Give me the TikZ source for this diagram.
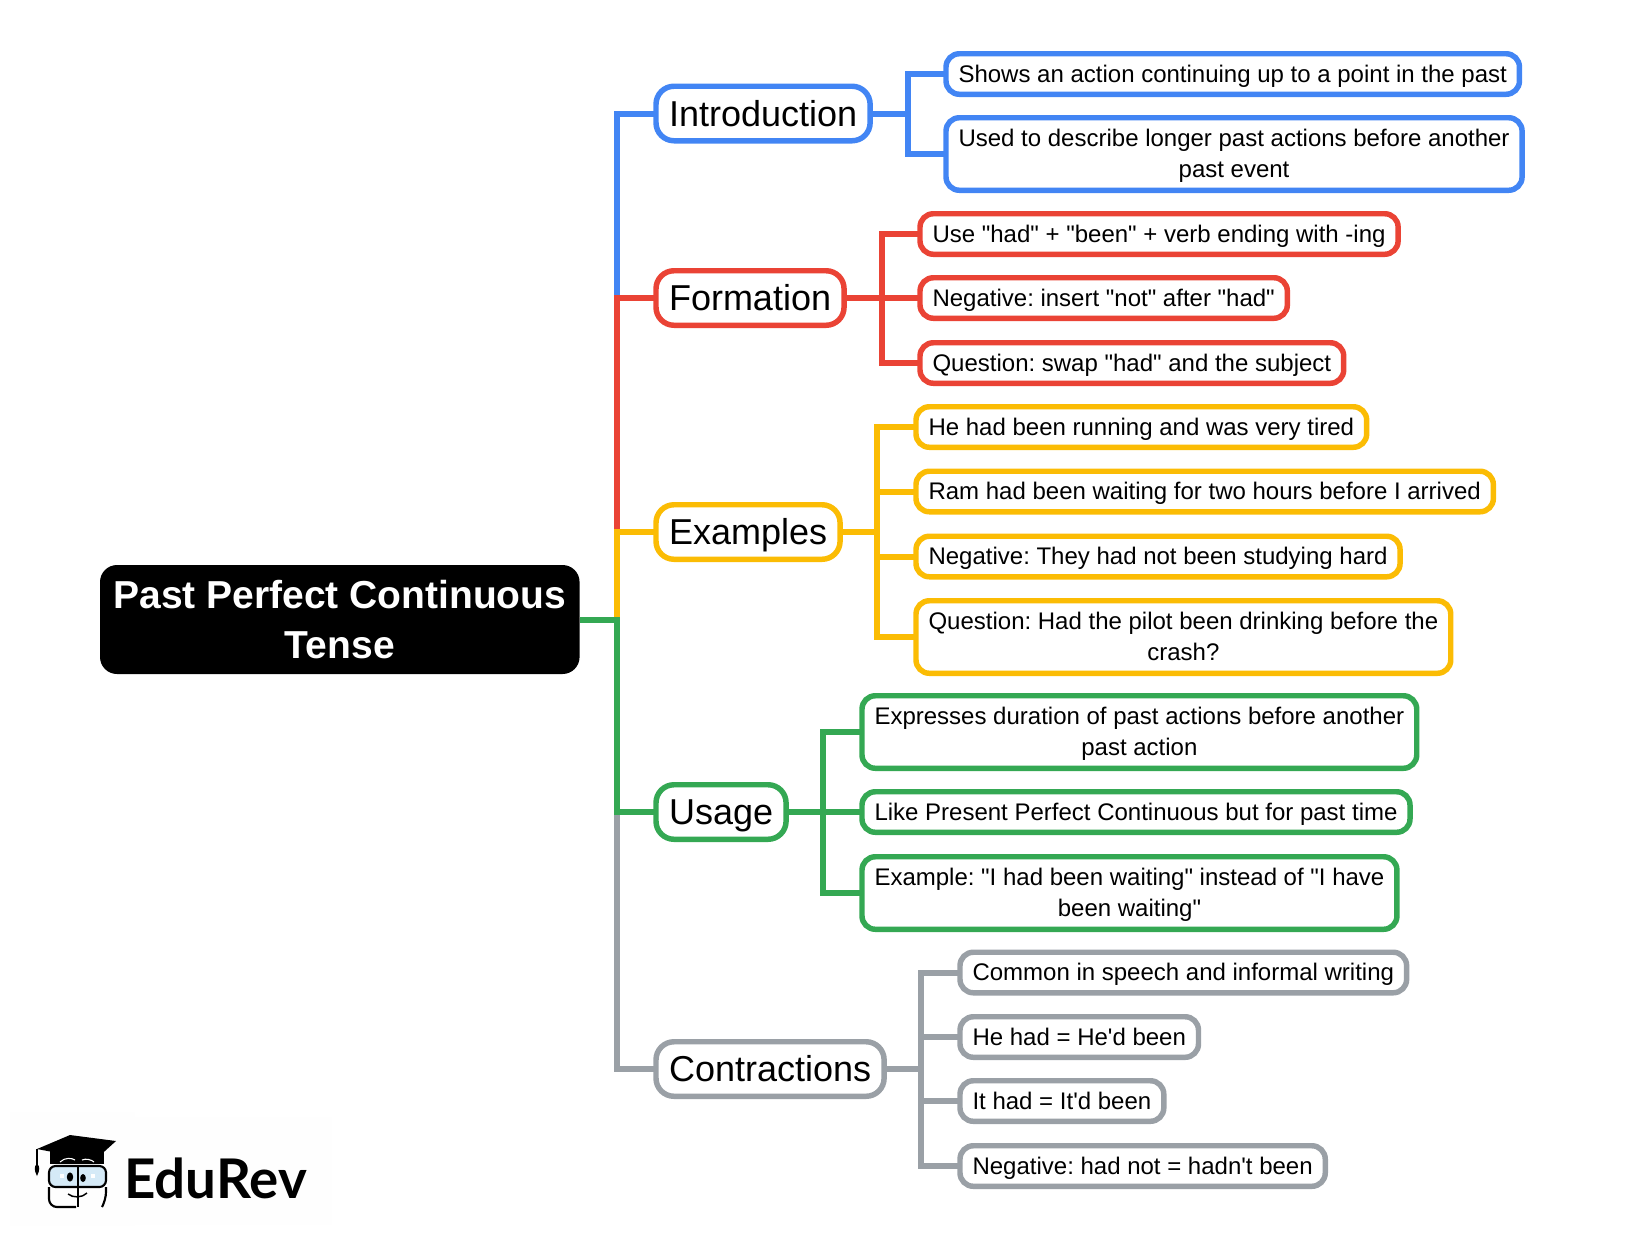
\documentclass[tikz,border=0pt]{standalone}
\usepackage{fontspec}
\setmainfont{Liberation Sans}[Ligatures=TeXOff]
\newfontfamily\logofont{Lato}
\usetikzlibrary{positioning}
\definecolor{introblue}{HTML}{4285F4}
\definecolor{formred}{HTML}{EA4335}
\definecolor{exyellow}{HTML}{FBBC04}
\definecolor{usegreen}{HTML}{34A853}
\definecolor{contgray}{HTML}{9AA0A6}
\definecolor{logoblue}{HTML}{D5EAF7}
\newcommand{\leafstrut}{\rule[-4.5pt]{0pt}{21pt}}
\newcommand{\topicstrut}{\rule[-7pt]{0pt}{33.3pt}}
\frenchspacing
\tikzset{
	mainbox/.style={anchor=west,fill=black,text=white,rounded corners=12.75pt,inner xsep=10pt,inner ysep=0pt,outer sep=0pt,minimum height=81.75pt,align=center,font=\fontsize{29.25}{38}\selectfont\bfseries},
	topicbox/.style={anchor=west,draw=#1,fill=white,line width=4.1pt,rounded corners=13.5pt,inner xsep=9.75pt,inner ysep=0pt,outer sep=0pt,minimum height=40.9pt,font=\fontsize{27}{33}\selectfont,execute at begin node=\topicstrut},
	leafbox/.style={anchor=west,draw=#1,fill=white,line width=4.1pt,rounded corners=10pt,inner xsep=9.4pt,inner ysep=0pt,outer sep=0pt,minimum height=30.4pt,align=center,font=\fontsize{18}{23.25}\selectfont,execute at begin node=\leafstrut},
	leafwide/.style={leafbox=#1,minimum height=54.4pt},
	branch/.style={draw=#1,line width=4.5pt}
}
\begin{document}
\begin{tikzpicture}[x=0.75pt,y=0.75pt,yscale=-1,xscale=1]
	\useasboundingbox (0,0) rectangle (1626,1240);
	% logo
	\fill [gray!0.8] (10,1112) rectangle (135,1226);
	\fill [gray!0.8] (135,1117) rectangle (332,1225);
	\draw [line width=1pt] (37,1149) -- (37,1166);
	\fill (37,1164) .. controls (34,1166) and (34,1170) .. (37,1176) .. controls (40,1170) and (40,1166) .. (37,1164) -- cycle;
	\fill (50,1150) -- (104,1150) -- (104,1164) -- (50,1164) -- cycle;
	\fill (37,1149) -- (70,1135) -- (116,1141) -- (95,1160) -- cycle;
	\draw [white,line width=0.8pt] (60,1162) .. controls (65,1157) and (72,1158) .. (75,1160);
	\draw [white,line width=0.8pt] (82,1160) .. controls (86,1158) and (92,1160) .. (94,1162);
	\draw [fill=logoblue,line width=1.6pt,rounded corners=5pt] (49,1166) rectangle (106,1187);
	\draw [line width=1.6pt,rounded corners=6pt] (76,1207) -- (49,1207) -- (49,1187);
	\draw [line width=1.6pt,rounded corners=6pt] (106,1187) -- (106,1200) -- (102,1207);
	\draw [line width=1.6pt] (78,1166) -- (78,1207);
	\fill (70,1177) ellipse (3.2 and 4.6);
	\fill (83,1178) ellipse (2.8 and 4);
	\fill [white] (60,1174) rectangle (64,1178);
	\fill [white] (91,1174) rectangle (95,1178);
	\draw [line width=1.1pt] (68,1194) .. controls (73,1198) and (82,1198) .. (87,1193);
	\draw (124,1178) node [anchor=west,inner sep=0pt,font=\logofont\fontsize{41}{45}\selectfont\bfseries] (logoname) {EduRev};
	% main and topics
	\draw (100,619.5) node [mainbox] (main) {Past Perfect Continuous\\Tense};
	\draw (656,113.5) node [topicbox=introblue] (intro) {Introduction};
	\draw (656,298) node [topicbox=formred] (form) {Formation};
	\draw (656,532) node [topicbox=exyellow] (ex) {Examples};
	\draw (656,812) node [topicbox=usegreen] (usage) {Usage};
	\draw (656,1069) node [topicbox=contgray] (cont) {Contractions};
	% leaves
	\draw (946,74) node [leafbox=introblue] (intro1) {Shows an action continuing up to a point in the past};
	\draw (946,154) node [leafwide=introblue] (intro2) {\leafstrut Used to describe longer past actions before another\\past event\leafstrut};
	\draw (920,234) node [leafbox=formred] (form1) {Use "had" + "been" + verb ending with -ing};
	\draw (920,298) node [leafbox=formred] (form2) {Negative: insert "not" after "had"};
	\draw (920,363) node [leafbox=formred] (form3) {Question: swap "had" and the subject};
	\draw (916,427) node [leafbox=exyellow] (ex1) {He had been running and was very tired};
	\draw (916,491.5) node [leafbox=exyellow] (ex2) {Ram had been waiting for two hours before I arrived};
	\draw (916,556.5) node [leafbox=exyellow] (ex3) {Negative: They had not been studying hard};
	\draw (916,637) node [leafwide=exyellow] (ex4) {\leafstrut Question: Had the pilot been drinking before the\\crash?\leafstrut};
	\draw (862,732) node [leafwide=usegreen] (usage1) {\leafstrut Expresses duration of past actions before another\\past action\leafstrut};
	\draw (862,812) node [leafbox=usegreen] (usage2) {Like Present Perfect Continuous but for past time};
	\draw (862,893) node [leafwide=usegreen] (usage3) {\leafstrut Example: "I had been waiting" instead of "I have\\been waiting"\leafstrut};
	\draw (960,972.5) node [leafbox=contgray] (cont1) {Common in speech and informal writing};
	\draw (960,1037) node [leafbox=contgray] (cont2) {He had = He'd been};
	\draw (960,1101) node [leafbox=contgray] (cont3) {It had = It'd been};
	\draw (960,1166) node [leafbox=contgray] (cont4) {Negative: had not = hadn't been};
	% joints
	\coordinate (mainjoin) at (617,619.5);
	\coordinate (introjoin) at (908,113.5);
	\coordinate (formjoin) at (882,298);
	\coordinate (exjoin) at (877,532);
	\coordinate (usagejoin) at (823,812);
	\coordinate (contjoin) at (921,1069);
	% spine, later colours lie over earlier ones
	\draw [branch=introblue] (main.east) -- (mainjoin) |- (intro.west);
	\draw [branch=formred] (main.east) -- (mainjoin) |- (form.west);
	\draw [branch=exyellow] (main.east) -- (mainjoin) |- (ex.west);
	\draw [branch=contgray] (main.east) -- (mainjoin) |- (cont.west);
	\draw [branch=usegreen] (main.east) -- (mainjoin) |- (usage.west);
	% branches
	\draw [branch=introblue] (intro.east) -- (introjoin) |- (intro1.west);
	\draw [branch=introblue] (intro.east) -- (introjoin) |- (intro2.west);
	\draw [branch=formred] (form.east) -- (formjoin) |- (form1.west);
	\draw [branch=formred] (form.east) -- (form2.west);
	\draw [branch=formred] (form.east) -- (formjoin) |- (form3.west);
	\draw [branch=exyellow] (ex.east) -- (exjoin) |- (ex1.west);
	\draw [branch=exyellow] (ex.east) -- (exjoin) |- (ex2.west);
	\draw [branch=exyellow] (ex.east) -- (exjoin) |- (ex3.west);
	\draw [branch=exyellow] (ex.east) -- (exjoin) |- (ex4.west);
	\draw [branch=usegreen] (usage.east) -- (usagejoin) |- (usage1.west);
	\draw [branch=usegreen] (usage.east) -- (usage2.west);
	\draw [branch=usegreen] (usage.east) -- (usagejoin) |- (usage3.west);
	\draw [branch=contgray] (cont.east) -- (contjoin) |- (cont1.west);
	\draw [branch=contgray] (cont.east) -- (contjoin) |- (cont2.west);
	\draw [branch=contgray] (cont.east) -- (contjoin) |- (cont3.west);
	\draw [branch=contgray] (cont.east) -- (contjoin) |- (cont4.west);
\end{tikzpicture}
\end{document}
